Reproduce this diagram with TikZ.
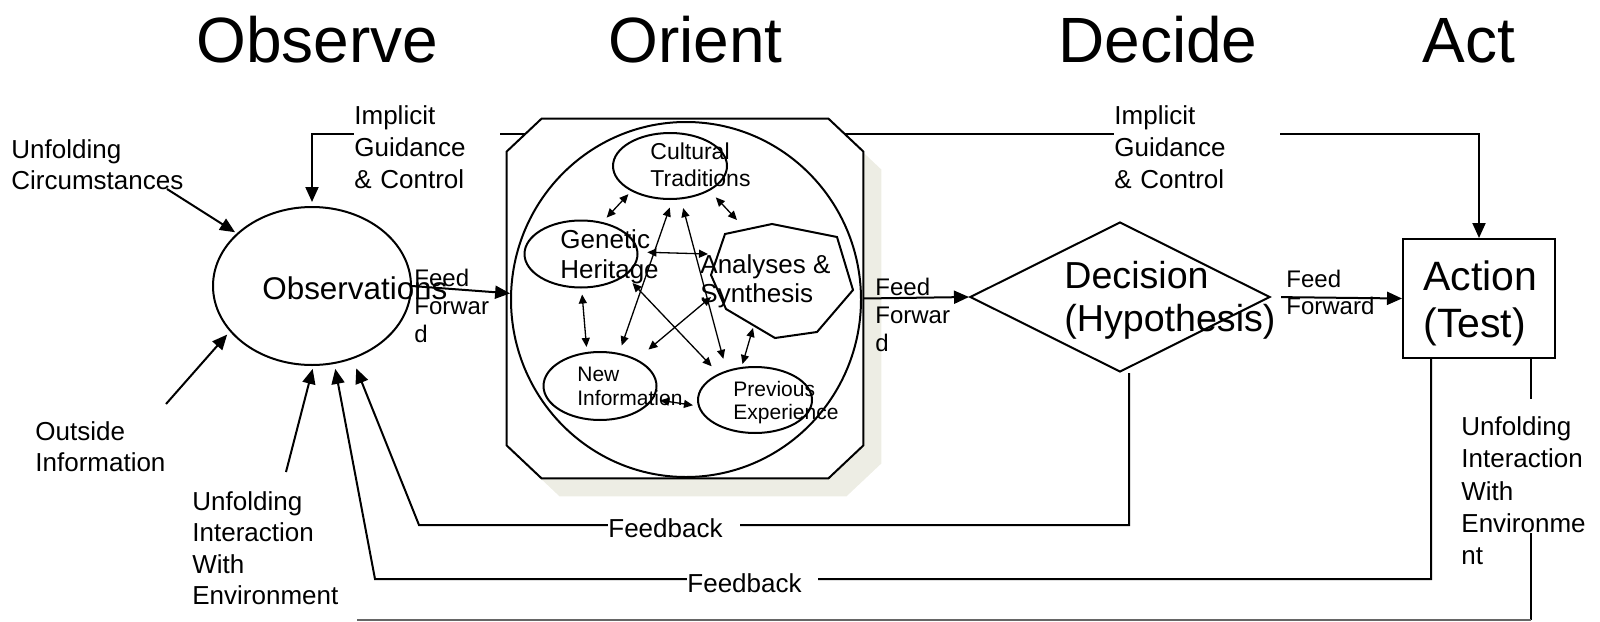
\documentclass[tikz,border=0pt]{standalone}
\usepackage{fontspec}
\setmainfont{Liberation Sans}
\usetikzlibrary{arrows.meta,shapes.geometric}
\definecolor{shadowgray}{RGB}{237,237,228}
\begin{document}
\begin{tikzpicture}[x=0.5pt,y=-0.5pt,
  line/.style={line width=1pt},
  arr/.style={line, -{Triangle[length=7.5pt,width=6.5pt]}},
  dblarr/.style={line, {Triangle[length=7.5pt,width=6.5pt]}-{Triangle[length=7.5pt,width=6.5pt]}},
  biarr/.style={line width=0.65pt, {Triangle[length=4.5pt,width=4pt]}-{Triangle[length=4.5pt,width=4pt]}},
  oval/.style={ellipse, draw, line width=1pt, inner sep=0pt, fill=white},
  frame/.style={draw=none, inner sep=0pt, minimum width=178pt, minimum height=179.5pt},
  head/.style={inner sep=0pt, anchor=base west, font=\fontsize{32pt}{38pt}\selectfont},
  lbl/.style={inner sep=0pt, anchor=north west, align=left, font=\fontsize{13pt}{15.75pt}\selectfont},
  fflbl/.style={inner sep=0pt, anchor=north west, align=left, font=\fontsize{12pt}{14pt}\selectfont},
  fblbl/.style={inner sep=0pt, anchor=base west, fill=white, font=\fontsize{13pt}{15.75pt}\selectfont},
  smalllbl/.style={inner sep=0pt, anchor=north west, align=left}
]
\useasboundingbox (0,0) rectangle (1600,621);

% phase headings
\node[head] (hobs) at (196,62) {Observe};
\node[head] (hori) at (608,62) {Orient};
\node[head] (hdec) at (1058,62) {Decide};
\node[head] (hact) at (1422,62) {Act};

% main stages
\node[oval, minimum width=99pt, minimum height=79pt] (obs) at (312,286) {};
\node[diamond, draw, line width=1pt, fill=white, inner sep=0pt,
      minimum width=150pt, minimum height=75pt] (dec) at (1120,297) {};
\node[draw, line width=1pt, fill=white, inner sep=0pt,
      minimum width=76pt, minimum height=59.5pt] (act) at (1479,298.5) {};

% implicit guidance & control line along the top
\coordinate (gtop) at (700,134);
\draw[dblarr, shorten <=2pt] (obs.north) |- (gtop) -| (act.north);

% orient block: octagon with its offset shadow
\node[frame] (orientsh) at (703,316.5) {};
\node[frame] (orient) at (685,298.5) {};
\fill[shadowgray]
  ([xshift=17.5pt]orientsh.north west) -- ([xshift=-17.5pt]orientsh.north east)
  -- ([yshift=-16.5pt]orientsh.north east) -- ([yshift=16.5pt]orientsh.south east)
  -- ([xshift=-17.5pt]orientsh.south east) -- ([xshift=17.5pt]orientsh.south west)
  -- ([yshift=16.5pt]orientsh.south west) -- ([yshift=-16.5pt]orientsh.north west) -- cycle;
\draw[line, fill=white]
  ([xshift=17.5pt]orient.north west) -- ([xshift=-17.5pt]orient.north east)
  -- ([yshift=-16.5pt]orient.north east) -- ([yshift=16.5pt]orient.south east)
  -- ([xshift=-17.5pt]orient.south east) -- ([xshift=17.5pt]orient.south west)
  -- ([yshift=16.5pt]orient.south west) -- ([yshift=-16.5pt]orient.north west) -- cycle;

\node[oval, minimum width=175pt, minimum height=177.5pt] (bigc) at (686,299.5) {};
\node[oval, minimum width=57pt, minimum height=33pt] (cult) at (670,166) {};
\node[oval, minimum width=56.5pt, minimum height=33.5pt] (gen) at (581,254) {};
\node[oval, minimum width=56.5pt, minimum height=34pt] (newi) at (600,386) {};
\node[oval, minimum width=57pt, minimum height=33pt] (prev) at (755,400) {};
\draw[line, fill=white] (725,234) -- (772,224) -- (837,237) -- (853,290)
  -- (817,332) -- (775,338) -- (726,309) -- (711,275) -- cycle;

% arrow ends on the analyses & synthesis polygon
\coordinate (an1) at (737,220);
\coordinate (an2) at (708,254);
\coordinate (an3) at (711,297);
\coordinate (an4) at (753,328);

% interactions inside the orient block
\draw[biarr, shorten <=2pt, shorten >=3pt] (cult.213) -- (gen.56);
\draw[biarr, shorten <=4.5pt] (cult.328) -- (an1);
\draw[biarr, shorten <=4.5pt] (gen.2) -- (an2);
\draw[biarr, shorten <=3pt, shorten >=2.5pt] (gen.271) -- (newi.111);
\draw[biarr, shorten <=4pt, shorten >=4pt] (cult.274) -- (newi.60);
\draw[biarr, shorten <=4.5pt, shorten >=6pt] (cult.288) -- (prev.134);
\draw[biarr, shorten <=5pt, shorten >=5pt] (gen.334) -- (prev.144);
\draw[biarr, shorten >=7.5pt] (an3) -- (newi.36);
\draw[biarr, shorten >=1.5pt] (an4) -- (prev.112);
\draw[biarr, shorten <=3.5pt, shorten >=2.5pt] (newi.346) -- (prev.186);

% inputs to observations
\coordinate (ucs) at (167,189);
\coordinate (ois) at (166,404);
\coordinate (uis) at (286,472);
\draw[arr, shorten >=1pt] (ucs) -- (obs.145);
\draw[arr, shorten >=2pt] (ois) -- (obs.209);
\draw[arr, shorten >=1.5pt] (uis) -- (obs.-89);

% feedback loops
\coordinate (fbu) at (419,525);
\coordinate (fbl) at (375,579);
\draw[arr, shorten >=5pt] ([xshift=4.5pt]dec.south) |- (fbu) -- (obs.-61);
\draw[arr, shorten >=2.5pt] ([xshift=-24pt]act.south) |- (fbl) -- (obs.-74);

% feed forward
\draw[arr] (obs.east) -- (bigc.178);
\draw[arr] (orient.east) -- (dec.west);
\draw[arr, shorten <=5pt] (dec.east) -- (act.west);

% unfolding interaction with environment, back along the bottom
\coordinate (ue1) at (1531,399);
\coordinate (ue2) at (1531,533);
\coordinate (ue3) at (1531,620);
\coordinate (ue4) at (357,620);
\draw[line] ([xshift=26pt]act.south) -- (ue1);
\draw[line] (ue2) -- (ue3);
\draw[line width=0.55pt, black!60] (ue3) -- (ue4);

% texts
\node[inner sep=0pt, anchor=base west, font=\fontsize{15.7pt}{18pt}\selectfont] (tobs) at (262,299) {Observations};
\node[lbl, fill=white, text width=73pt, font=\fontsize{13pt}{16pt}\selectfont] (tig1) at (354,105) {Implicit\\Guidance\\\& Control};
\node[lbl, fill=white, text width=83pt, font=\fontsize{13pt}{16pt}\selectfont] (tig2) at (1114,105) {Implicit\\Guidance\\\& Control};
\node[lbl] (tuc) at (11,139) {Unfolding\\Circumstances};
\node[lbl] (toi) at (35,421) {Outside\\Information};
\node[lbl] (tui1) at (192,491) {Unfolding\\Interaction\\With\\Environment};
\node[lbl, font=\fontsize{13pt}{16.2pt}\selectfont] (tui2) at (1461,416) {Unfolding\\Interaction\\With\\Environme\\nt};
\node[fflbl] (tff1) at (414,269) {Feed\\Forwar\\d};
\node[fflbl] (tff2) at (875,278) {Feed\\Forwar\\d};
\node[fflbl, font=\fontsize{12pt}{13.5pt}\selectfont] (tff3) at (1286,270) {Feed\\Forward};
\node[fblbl] (tfb1) at (608,537) {\makebox[66pt][l]{Feedback}};
\node[fblbl] (tfb2) at (687,592) {\makebox[65.5pt][l]{Feedback}};

\node[smalllbl, font=\fontsize{11.5pt}{13.5pt}\selectfont] (tcult) at (650,142) {Cultural\\Traditions};
\node[smalllbl, font=\fontsize{13pt}{15pt}\selectfont] (tgen) at (560,229) {Genetic\\Heritage};
\node[smalllbl, font=\fontsize{13pt}{14.5pt}\selectfont] (tan) at (700,254) {Analyses \&\\Synthesis};
\node[smalllbl, font=\fontsize{10.5pt}{11.75pt}\selectfont] (tnew) at (577,367) {New\\Information};
\node[smalllbl, font=\fontsize{10.5pt}{11.5pt}\selectfont] (tprev) at (733,381) {Previous\\Experience};

\node[smalllbl, font=\fontsize{18.8pt}{21.5pt}\selectfont] (tdec) at (1064,261) {Decision\\(Hypothesis)};
\node[smalllbl, font=\fontsize{20.5pt}{23.5pt}\selectfont] (tact) at (1423,260) {Action\\(Test)};
\end{tikzpicture}
\end{document}
